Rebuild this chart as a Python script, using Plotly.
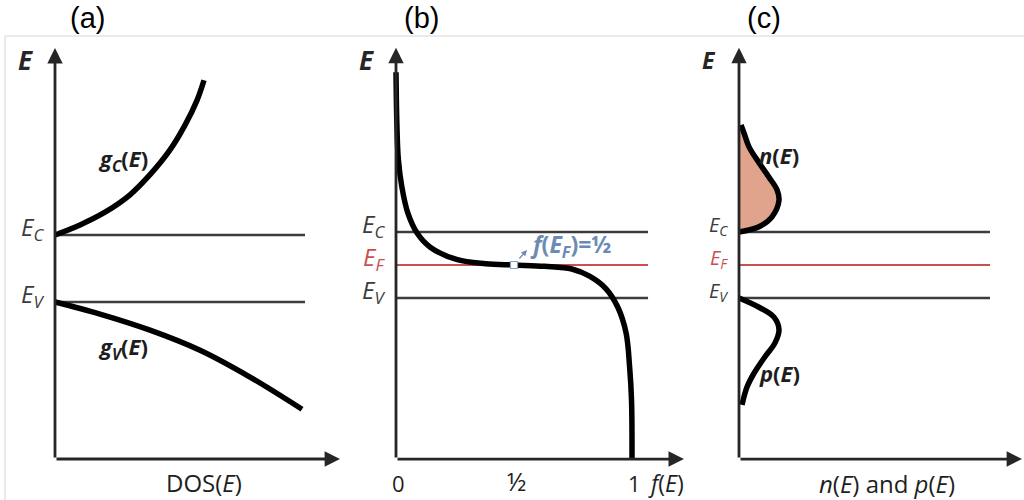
import plotly.graph_objects as go

W, H = 1024, 500

# Energy levels, in units of the band gap (E_V = 0, E_C = 1)
E_V = 0.0
E_F = 0.5
E_C = 1.0

# (a) density of states in the conduction and valence bands
GC_DOS = [0.0, 0.25, 0.50, 0.75, 0.95, 1.15, 1.30, 1.42, 1.49]
GC_E = [1.00, 1.15, 1.34, 1.60, 1.90, 2.27, 2.64, 3.01, 3.31]
GV_DOS = [0.0, 0.45, 0.95, 1.45, 1.95, 2.47]
GV_E = [0.0, -0.18, -0.42, -0.72, -1.12, -1.60]

# (b) Fermi-Dirac occupation f(E)
FD_F = [0.0, 0.004, 0.01, 0.025, 0.05, 0.09, 0.145, 0.26, 0.38, 0.50,
        0.63, 0.745, 0.82, 0.89, 0.94, 0.975, 0.99, 0.998, 1.0]
FD_E = [3.42, 2.60, 2.10, 1.68, 1.29, 0.98, 0.77, 0.58, 0.52, 0.50,
        0.48, 0.44, 0.33, 0.14, -0.14, -0.53, -1.05, -1.55, -2.44]
F_HALF = 0.5

# (c) electron and hole distributions
N_X = [0.0, 0.20, 0.33, 0.40, 0.38, 0.30, 0.20, 0.10, 0.05, 0.02]
N_E = [1.00, 1.08, 1.23, 1.48, 1.64, 1.83, 2.05, 2.29, 2.50, 2.62]
P_X = [0.0, 0.20, 0.35, 0.40, 0.36, 0.26, 0.15, 0.08, 0.03]
P_E = [0.0, -0.14, -0.29, -0.48, -0.68, -0.89, -1.14, -1.35, -1.62]

F_TICKS = [0, 0.5, 1]
F_TICK_TEXT = ["0", "½", "1"]
PANEL_TAGS = ["(a)", "(b)", "(c)"]
X_TITLES = ["DOS(<i>E</i>)", "", "<i>n</i>(<i>E</i>) and <i>p</i>(<i>E</i>)"]

FONT = "Open Sans"
INK = "#1e1e1e"
AXIS = "#262626"
LEVEL = "#3c3c3c"
RED = "#c9504f"
FILL = "#e0a48c"
NOTE = "#6b8bb5"

# panel geometry: x origin (px), px per x unit, E_V row (px), px per E unit,
# x-domain (px), axis extents in data units
panels = [
    dict(ox=55, sx=100, oy=302, sy=67, dom=(0, 360), xtip=2.85, ybot=-2.343, ytop=3.79, lev_end=2.50, fermi=False),
    dict(ox=396, sx=236, oy=298, sy=66, dom=(360, 700), xtip=1.22, ybot=-2.44, ytop=3.79, lev_end=1.068, fermi=True),
    dict(ox=739, sx=100, oy=298, sy=66, dom=(700, 1024), xtip=2.83, ybot=-2.44, ytop=3.79, lev_end=2.51, fermi=True),
]

fig = go.Figure()
layout = dict(width=W, height=H, margin=dict(l=0, r=0, t=0, b=0),
              paper_bgcolor="white", plot_bgcolor="rgba(0,0,0,0)",
              showlegend=False)
annotations = []

for i, p in enumerate(panels):
    n = "" if i == 0 else str(i + 1)
    xr, yr = "x" + n, "y" + n
    d0, d1 = p["dom"]
    layout["xaxis" + n] = dict(domain=[d0 / W, d1 / W], range=[(d0 - p["ox"]) / p["sx"], (d1 - p["ox"]) / p["sx"]],
                               visible=False, fixedrange=True)
    layout["yaxis" + n] = dict(domain=[0, 1], range=[(p["oy"] - H) / p["sy"], p["oy"] / p["sy"]],
                               visible=False, fixedrange=True)

    # band-edge and Fermi levels
    levels = [(E_C, LEVEL, 2.5, "<i>E<sub>C</sub></i>", LEVEL), (E_V, LEVEL, 2.5, "<i>E<sub>V</sub></i>", LEVEL)]
    if p["fermi"]:
        levels.insert(1, (E_F, RED, 2.0, "<i>E<sub>F</sub></i>", RED))
    for e, col, w, lab, lcol in levels:
        fig.add_trace(go.Scatter(x=[0, p["lev_end"]], y=[e, e], mode="lines",
                                 line=dict(color=col, width=w), xaxis=xr, yaxis=yr, hoverinfo="skip"))
        annotations.append(dict(x=0, y=e, xref=xr, yref=yr, text=lab, showarrow=False,
                                xanchor="right", yanchor="middle", xshift=-9, yshift=7,
                                font=dict(family=FONT, size=24 if i < 2 else 20, color=lcol)))

    # axes with arrowheads
    annotations.append(dict(x=0, y=p["ytop"], ax=0, ay=p["ybot"], xref=xr, yref=yr, axref=xr, ayref=yr,
                            text="", showarrow=True, arrowhead=2, arrowsize=1.1, arrowwidth=2.8, arrowcolor=AXIS))
    annotations.append(dict(x=p["xtip"], y=p["ybot"], ax=0, ay=p["ybot"], xref=xr, yref=yr, axref=xr, ayref=yr,
                            text="", showarrow=True, arrowhead=2, arrowsize=1.1, arrowwidth=2.8, arrowcolor=AXIS))

    # axis name E
    annotations.append(dict(x=0, y=3.61, xref=xr, yref=yr, text="<b><i>E</i></b>", showarrow=False,
                            xanchor="center", yanchor="middle", xshift=-30,
                            font=dict(family=FONT, size=26 if i < 2 else 23, color=AXIS)))

    # panel tag
    annotations.append(dict(x=[87, 421, 764][i] / W, y=1 - 18 / H, xref="paper", yref="paper",
                            text=PANEL_TAGS[i], showarrow=False, xanchor="center", yanchor="middle",
                            font=dict(family="Liberation Sans", size=29, color="black")))

    if X_TITLES[i]:
        annotations.append(dict(x=p["xtip"] / 2 + 0.06, y=p["ybot"], xref=xr, yref=yr, text=X_TITLES[i],
                                showarrow=False, xanchor="center", yanchor="middle", yshift=-24,
                                font=dict(family=FONT, size=24, color=INK)))

# (a) curves
fig.add_trace(go.Scatter(x=GC_DOS, y=GC_E, mode="lines", line=dict(color="black", width=5.5, shape="spline"),
                         xaxis="x", yaxis="y", hoverinfo="skip"))
fig.add_trace(go.Scatter(x=GV_DOS, y=GV_E, mode="lines", line=dict(color="black", width=5.5, shape="spline"),
                         xaxis="x", yaxis="y", hoverinfo="skip"))
annotations.append(dict(x=0.41, y=2.12, xref="x", yref="y", text="<b><i>g<sub>C</sub></i>(<i>E</i>)</b>",
                        showarrow=False, xanchor="left", yanchor="middle",
                        font=dict(family=FONT, size=22, color=INK)))
annotations.append(dict(x=0.41, y=-0.69, xref="x", yref="y", text="<b><i>g<sub>V</sub></i>(<i>E</i>)</b>",
                        showarrow=False, xanchor="left", yanchor="middle",
                        font=dict(family=FONT, size=22, color=INK)))

# (b) Fermi-Dirac curve
fig.add_trace(go.Scatter(x=FD_F, y=FD_E, mode="lines", line=dict(color="black", width=5.5, shape="spline"),
                         xaxis="x2", yaxis="y2", hoverinfo="skip"))
fig.add_trace(go.Scatter(x=[F_HALF], y=[E_F], mode="markers",
                         marker=dict(symbol="square", size=7, color="white", line=dict(color="#8aa0b8", width=1.2)),
                         xaxis="x2", yaxis="y2", hoverinfo="skip"))
annotations.append(dict(x=F_HALF, y=E_F, xref="x2", yref="y2", text="", showarrow=True,
                        xshift=13, yshift=15, ax=-9, ay=10, arrowhead=2, arrowsize=0.9,
                        arrowwidth=1.3, arrowcolor=NOTE))
annotations.append(dict(x=F_HALF, y=E_F, xref="x2", yref="y2",
                        text="<b><i>f</i>(<i>E<sub>F</sub></i>)=½</b>", showarrow=False,
                        xanchor="left", yanchor="middle", xshift=14, yshift=20,
                        font=dict(family=FONT, size=23, color=NOTE)))
for v, t in zip(F_TICKS, F_TICK_TEXT):
    half = t == "½"
    annotations.append(dict(x=v, y=panels[1]["ybot"], xref="x2", yref="y2", text=t, showarrow=False,
                            xanchor="center", yanchor="middle", yshift=-22 if half else -24, xshift=2,
                            font=dict(family=FONT, size=25 if half else 22, color=INK)))
annotations.append(dict(x=1, y=panels[1]["ybot"], xref="x2", yref="y2", text="<i>f</i>(<i>E</i>)",
                        showarrow=False, xanchor="left", yanchor="middle", yshift=-24, xshift=14,
                        font=dict(family=FONT, size=23, color=INK)))

# (c) carrier distributions
fig.add_trace(go.Scatter(x=N_X, y=N_E, mode="lines", fill="tozerox", fillcolor=FILL,
                         line=dict(color="black", width=5.5, shape="spline"),
                         xaxis="x3", yaxis="y3", hoverinfo="skip"))
fig.add_trace(go.Scatter(x=P_X, y=P_E, mode="lines", line=dict(color="black", width=5.5, shape="spline"),
                         xaxis="x3", yaxis="y3", hoverinfo="skip"))
annotations.append(dict(x=0.18, y=2.17, xref="x3", yref="y3", text="<b><i>n</i>(<i>E</i>)</b>",
                        showarrow=False, xanchor="left", yanchor="middle",
                        font=dict(family=FONT, size=22, color=INK)))
annotations.append(dict(x=0.18, y=-1.14, xref="x3", yref="y3", text="<b><i>p</i>(<i>E</i>)</b>",
                        showarrow=False, xanchor="left", yanchor="middle",
                        font=dict(family=FONT, size=22, color=INK)))

# light frame around the figure body
layout["shapes"] = [
    dict(type="line", xref="paper", yref="paper", x0=5 / W, x1=1, y0=1 - 36 / H, y1=1 - 36 / H,
         line=dict(color="#e2e2e2", width=1.5)),
    dict(type="line", xref="paper", yref="paper", x0=5 / W, x1=5 / W, y0=0, y1=1 - 36 / H,
         line=dict(color="#e2e2e2", width=1.5)),
]
layout["annotations"] = annotations
fig.update_layout(**layout)
fig.write_html("out.html")
